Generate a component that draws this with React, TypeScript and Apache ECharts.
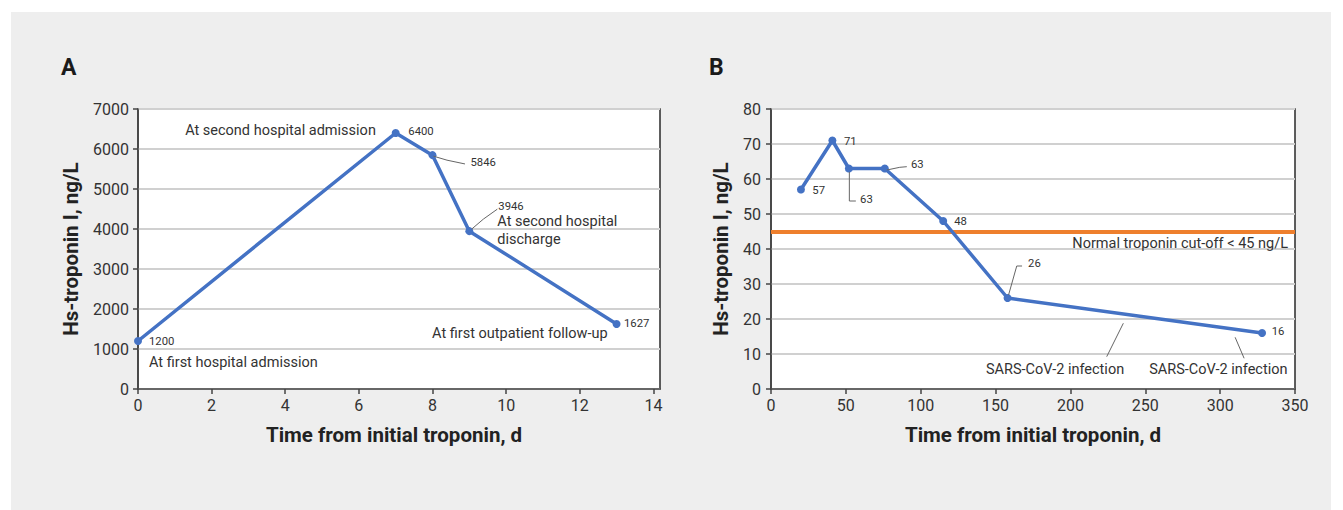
import React, { useEffect, useRef } from "react";
import * as echarts from "echarts";

// ---- Data ----
const daysA = [0, 7, 8, 9, 13];
const tropA = [1200, 6400, 5846, 3946, 1627];
const xTicksA = [0, 2, 4, 6, 8, 10, 12, 14];
const eventsA = [
  "At first hospital admission",
  "At second hospital admission",
  "",
  "At second hospital\ndischarge",
  "At first outpatient follow-up",
];

const daysB = [20, 41, 52, 76, 115, 158, 328];
const tropB = [57, 71, 63, 63, 48, 26, 16];
const cutoffB = 45;
const cutoffLabel = "Normal troponin cut-off < 45 ng/L";
const infectionDaysB = [235, 310];
const infectionLabel = "SARS-CoV-2 infection";

const yTitle = "Hs-troponin I, ng/L";
const xTitle = "Time from initial troponin, d";

// ---- Styles ----
const FONT = "Roboto, 'Noto Sans', sans-serif";
const BLUE = "#4472c4";
const ORANGE = "#ee7f2d";
const TEXT = "#333333";
const LEADER = "#666666";

export default function App() {
  const ref = useRef<HTMLDivElement>(null);

  useEffect(() => {
    const el = ref.current!;
    const chart = echarts.init(el, null, { renderer: "svg" });

    const axisLineStyle = { color: "#444", width: 1.5 };
    const tickLabel = { fontSize: 16, color: TEXT, fontFamily: FONT, formatter: (v: number) => String(v) };
    const nameStyle = { fontSize: 20.5, fontWeight: "bold" as const, color: "#222", fontFamily: FONT };
    const gridCommon = {
      show: true,
      backgroundColor: "#ffffff",
      borderColor: "#2a2a2a",
      borderWidth: 1.5,
      containLabel: false,
    };
    const splitLine = { show: true, lineStyle: { color: "#d0d0d0", width: 2 } };

    const option: any = {
      animation: false,
      grid: [
        { ...gridCommon, left: 138, top: 109, width: 522, height: 280 },
        { ...gridCommon, left: 771, top: 109, width: 524, height: 280 },
      ],
      xAxis: [
        {
          gridIndex: 0,
          type: "value",
          min: 0,
          max: 14.18,
          interval: 2,
          axisLine: { show: true, onZero: false, lineStyle: axisLineStyle },
          axisTick: { show: true, length: 5, lineStyle: axisLineStyle, customValues: xTicksA },
          axisLabel: { ...tickLabel, margin: 8, customValues: xTicksA },
          splitLine: { show: false },
          name: xTitle,
          nameLocation: "middle",
          nameGap: 35,
          nameTextStyle: { ...nameStyle, padding: [0, 10, 0, 0] },
        },
        {
          gridIndex: 1,
          type: "value",
          min: 0,
          max: 350,
          interval: 50,
          axisLine: { show: true, onZero: false, lineStyle: axisLineStyle },
          axisTick: { show: true, length: 5, lineStyle: axisLineStyle },
          axisLabel: { ...tickLabel, margin: 8 },
          splitLine: { show: false },
          name: xTitle,
          nameLocation: "middle",
          nameGap: 35,
          nameTextStyle: nameStyle,
        },
      ],
      yAxis: [
        {
          gridIndex: 0,
          type: "value",
          min: 0,
          max: 7000,
          interval: 1000,
          axisLine: { show: true, onZero: false, lineStyle: axisLineStyle },
          axisTick: { show: true, length: 5, lineStyle: axisLineStyle },
          axisLabel: { ...tickLabel, margin: 9 },
          splitLine,
          name: yTitle,
          nameLocation: "middle",
          nameGap: 57,
          nameTextStyle: nameStyle,
        },
        {
          gridIndex: 1,
          type: "value",
          min: 0,
          max: 80,
          interval: 10,
          axisLine: { show: true, onZero: false, lineStyle: axisLineStyle },
          axisTick: { show: true, length: 5, lineStyle: axisLineStyle },
          axisLabel: { ...tickLabel, margin: 10 },
          splitLine,
          name: yTitle,
          nameLocation: "middle",
          nameGap: 40,
          nameTextStyle: nameStyle,
        },
      ],
      series: [
        {
          type: "line",
          xAxisIndex: 0,
          yAxisIndex: 0,
          data: daysA.map((d, i) => [d, tropA[i]]),
          symbol: "circle",
          symbolSize: 8,
          lineStyle: { color: BLUE, width: 3.5 },
          itemStyle: { color: BLUE },
          z: 5,
        },
        {
          type: "line",
          xAxisIndex: 1,
          yAxisIndex: 1,
          data: daysB.map((d, i) => [d, tropB[i]]),
          symbol: "circle",
          symbolSize: 8,
          lineStyle: { color: BLUE, width: 3.5 },
          itemStyle: { color: BLUE },
          z: 5,
          markLine: {
            silent: true,
            symbol: "none",
            label: { show: false },
            lineStyle: { color: ORANGE, width: 4, type: "solid" },
            data: [{ yAxis: cutoffB }],
          },
        },
      ],
    };
    chart.setOption(option);

    const P = (si: number, d: number[]) => chart.convertToPixel({ seriesIndex: si }, d) as number[];
    const g: any[] = [];
    const txt = (x: number, y: number, text: string, size: number, align = "left") =>
      g.push({
        type: "text",
        x,
        y,
        z: 100,
        style: { text, fontSize: size, fontFamily: FONT, fill: TEXT, align, verticalAlign: "middle" },
      });
    const lead = (base: number[], pts: number[][]) =>
      g.push({
        type: "polyline",
        z: 100,
        shape: { points: pts.map((p) => [base[0] + p[0], base[1] + p[1]]) },
        style: { stroke: LEADER, lineWidth: 1, fill: "none" },
      });

    // Panel letters
    const letter = { fontSize: 23, fontWeight: "bold", fontFamily: FONT, fill: "#1a1a1a", verticalAlign: "middle" };
    g.push({ type: "text", x: 61, y: 67, z: 100, style: { ...letter, text: "A" } });
    g.push({ type: "text", x: 709, y: 67, z: 100, style: { ...letter, text: "B" } });

    // Panel A annotations
    const pa = daysA.map((d, i) => P(0, [d, tropA[i]]));
    const NUM = 11.3;
    const ANN = 14.5;
    txt(pa[0][0] + 11, pa[0][1] + 0.7, String(tropA[0]), NUM);
    txt(pa[0][0] + 11, pa[0][1] + 21.3, eventsA[0], ANN);
    txt(pa[1][0] + 12.6, pa[1][1] - 1.5, String(tropA[1]), NUM);
    txt(pa[1][0] - 19.8, pa[1][1] - 2.7, eventsA[1], ANN, "right");
    lead(pa[2], [[1, 1], [14.5, 5], [32.5, 8.8]]);
    txt(pa[2][0] + 38, pa[2][1] + 7, String(tropA[2]), NUM);
    lead(pa[3], [[2.3, -2], [14, -12], [28, -22]]);
    txt(pa[3][0] + 29, pa[3][1] - 25, String(tropA[3]), NUM);
    const dis = eventsA[3].split("\n");
    txt(pa[3][0] + 28, pa[3][1] - 10, dis[0], ANN);
    txt(pa[3][0] + 28, pa[3][1] + 8, dis[1], ANN);
    txt(pa[4][0] + 7.4, pa[4][1], String(tropA[4]), NUM);
    txt(pa[4][0] - 9, pa[4][1] + 10, eventsA[4], ANN, "right");

    // Panel B annotations
    const pb = daysB.map((d, i) => P(1, [d, tropB[i]]));
    txt(pb[0][0] + 11.4, pb[0][1] + 0.5, String(tropB[0]), NUM);
    txt(pb[1][0] + 11.6, pb[1][1] + 0.5, String(tropB[1]), NUM);
    lead(pb[2], [[0.5, 3.5], [0.5, 32.5], [7, 32.5]]);
    txt(pb[2][0] + 11.2, pb[2][1] + 30.5, String(tropB[2]), NUM);
    lead(pb[3], [[2, 1.5], [15, -1.2], [22, -1.8]]);
    txt(pb[3][0] + 26.2, pb[3][1] - 4.2, String(tropB[3]), NUM);
    txt(pb[4][0] + 11, pb[4][1], String(tropB[4]), NUM);
    lead(pb[5], [[1, -3], [9.2, -32], [14.5, -32]]);
    txt(pb[5][0] + 20.5, pb[5][1] - 34.7, String(tropB[5]), NUM);
    txt(pb[6][0] + 9.7, pb[6][1] - 1.3, String(tropB[6]), NUM);

    // Infection annotations: anchored on the line at the given day
    const lineAt = (day: number) => {
      for (let i = 0; i < daysB.length - 1; i++) {
        if (day >= daysB[i] && day <= daysB[i + 1]) {
          const t = (day - daysB[i]) / (daysB[i + 1] - daysB[i]);
          return tropB[i] + t * (tropB[i + 1] - tropB[i]);
        }
      }
      return tropB[tropB.length - 1];
    };
    const ia = P(1, [infectionDaysB[0], lineAt(infectionDaysB[0])]);
    lead(ia, [[0.5, 9.4], [-16.1, 42.8]]);
    txt(ia[0] - 67.8, ia[1] + 55.4, infectionLabel, ANN, "center");
    const ib = P(1, [infectionDaysB[1], lineAt(infectionDaysB[1])]);
    lead(ib, [[0, 8], [9, 29]]);
    txt(ib[0] - 16.8, ib[1] + 40, infectionLabel, ANN, "center");

    // Cut-off label
    const cEnd = P(1, [350, cutoffB]);
    txt(cEnd[0] - 7, cEnd[1] + 11.5, cutoffLabel, ANN, "right");

    chart.setOption({ graphic: g });

    return () => chart.dispose();
  }, []);

  return (
    <div style={{ position: "absolute", left: 0, top: 0, width: 1343, height: 510, background: "#ffffff" }}>
      <div style={{ position: "absolute", left: 11, top: 12, width: 1320, height: 498, background: "#eeeeee" }} />
      <div ref={ref} style={{ position: "absolute", left: 0, top: 0, width: 1343, height: 510 }} />
    </div>
  );
}
